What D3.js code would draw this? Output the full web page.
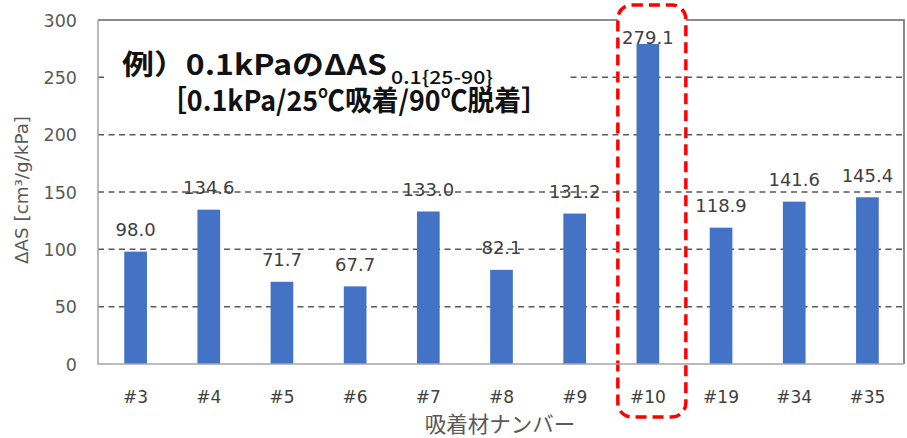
<!DOCTYPE html>
<html>
<head>
<meta charset="utf-8">
<script src="https://cdn.jsdelivr.net/npm/d3@7"></script>
<style>
  html, body { margin: 0; padding: 0; background: #fff; }
  svg { display: block; }
</style>
</head>
<body>
<svg id="chart" width="907" height="438"></svg>
<script>
// Adsorbent numbers and their ΔAS values (cm³/g/kPa)
const categories = ["#3", "#4", "#5", "#6", "#7", "#8", "#9", "#10", "#19", "#34", "#35"];
const values = [98.0, 134.6, 71.7, 67.7, 133.0, 82.1, 131.2, 279.1, 118.9, 141.6, 145.4];
const yTicks = [0, 50, 100, 150, 200, 250, 300];
const highlighted = "#10";

const titleMain = "例）0.1kPaのΔAS";
const titleSub = "0.1{25-90}";
const titleLine2 = "［0.1kPa/25℃吸着/90℃脱着］";
const xTitle = "吸着材ナンバー";
const yTitle = "ΔAS [cm³/g/kPa]";

const svg = d3.select("#chart");
const W = 907, H = 438;
const plot = { left: 98, right: 904, top: 20, bottom: 364 };
const numFont = "'DejaVu Sans', sans-serif";
const jpFont = "'Noto Sans CJK JP', sans-serif";

svg.append("rect").attr("width", W).attr("height", H).attr("fill", "#fff");

const x = d3.scaleBand()
  .domain(categories)
  .range([plot.left + 1, plot.right])
  .paddingInner(0.69)
  .paddingOuter(0.345);

const y = d3.scaleLinear().domain([0, 300]).range([plot.bottom, plot.top]);

// Top and right frame lines
svg.append("path")
  .attr("d", `M${plot.left},${y(300)}H${plot.right}V${plot.bottom}`)
  .attr("fill", "none")
  .attr("stroke", "#666")
  .attr("stroke-width", 1.5);

// Dashed red highlight box around #10 (white fill sits under the grid)
const hx = x(highlighted) + x.bandwidth() / 2 + 4;
svg.append("rect")
  .attr("x", hx - 34)
  .attr("y", 5)
  .attr("width", 68)
  .attr("height", 412)
  .attr("rx", 14)
  .attr("fill", "#fff")
  .attr("stroke", "#ff0000")
  .attr("stroke-width", 3.5)
  .attr("stroke-dasharray", "11,6");

// Dashed horizontal gridlines
svg.append("g")
  .selectAll("line")
  .data(yTicks.filter(t => t > 0 && t < 300))
  .join("line")
  .attr("x1", plot.left)
  .attr("x2", plot.right)
  .attr("y1", d => y(d))
  .attr("y2", d => y(d))
  .attr("stroke", "#5a5a5a")
  .attr("stroke-width", 1.5)
  .attr("stroke-dasharray", "6,4.5");

// Bars
svg.append("g")
  .selectAll("rect")
  .data(categories.map((c, i) => ({ c, v: values[i] })))
  .join("rect")
  .attr("x", d => x(d.c))
  .attr("y", d => y(d.v))
  .attr("width", x.bandwidth())
  .attr("height", d => y(0) - y(d.v))
  .attr("fill", "#4472c4");

// Left and bottom axis lines
svg.append("path")
  .attr("d", `M${plot.left},${plot.top}V${plot.bottom}H${plot.right}`)
  .attr("fill", "none")
  .attr("stroke", "#a6a6a6")
  .attr("stroke-width", 1.5);

// Value labels
svg.append("g")
  .selectAll("text")
  .data(categories.map((c, i) => ({ c, v: values[i] })))
  .join("text")
  .attr("x", d => x(d.c) + x.bandwidth() / 2)
  .attr("y", d => Math.max(y(d.v) - 15.5, y(300) + 24))
  .attr("text-anchor", "middle")
  .attr("font-family", numFont)
  .attr("font-size", 18)
  .attr("fill", "#404040")
  .text(d => d.v.toFixed(1));

// Y tick labels
const yAxis = d3.axisLeft(y).tickValues(yTicks).tickSize(0).tickPadding(0);
const yg = svg.append("g").attr("transform", `translate(${plot.left - 21},0)`).call(yAxis);
yg.select(".domain").remove();
yg.selectAll("text")
  .attr("font-family", numFont)
  .attr("font-size", 17.5)
  .attr("fill", "#595959")
  .attr("dy", "0.36em");

// X tick labels
const xAxis = d3.axisBottom(x).tickSize(0).tickPadding(0);
const xg = svg.append("g").attr("transform", `translate(0,${plot.bottom})`).call(xAxis);
xg.select(".domain").remove();
xg.selectAll("text")
  .attr("font-family", numFont)
  .attr("font-size", 17)
  .attr("fill", "#404040")
  .attr("y", 39)
  .attr("dy", 0);

// Axis titles
svg.append("text")
  .attr("x", 500)
  .attr("y", 432)
  .attr("text-anchor", "middle")
  .attr("font-family", jpFont)
  .attr("font-size", 21.5)
  .attr("fill", "#595959")
  .text(xTitle);

svg.append("text")
  .attr("transform", "translate(28,190) rotate(-90)")
  .attr("text-anchor", "middle")
  .attr("font-family", numFont)
  .attr("font-size", 17)
  .attr("fill", "#595959")
  .attr("textLength", 148)
  .attr("lengthAdjust", "spacingAndGlyphs")
  .text(yTitle);

// Title block on a white panel
svg.append("rect")
  .attr("x", 108).attr("y", 42)
  .attr("width", 462).attr("height", 76)
  .attr("fill", "#fff");

svg.append("text")
  .attr("x", 122).attr("y", 75)
  .attr("font-family", jpFont)
  .attr("font-weight", 700)
  .attr("font-size", 28)
  .attr("fill", "#111")
  .attr("textLength", 265)
  .attr("lengthAdjust", "spacingAndGlyphs")
  .text(titleMain);

svg.append("text")
  .attr("x", 391).attr("y", 84)
  .attr("font-family", jpFont)
  .attr("font-weight", 500)
  .attr("font-size", 18)
  .attr("fill", "#111")
  .attr("textLength", 102)
  .attr("lengthAdjust", "spacingAndGlyphs")
  .text(titleSub);

svg.append("text")
  .attr("x", 160).attr("y", 111)
  .attr("font-family", jpFont)
  .attr("font-weight", 700)
  .attr("font-size", 28)
  .attr("fill", "#111")
  .attr("textLength", 388)
  .attr("lengthAdjust", "spacingAndGlyphs")
  .text(titleLine2);
</script>
</body>
</html>
